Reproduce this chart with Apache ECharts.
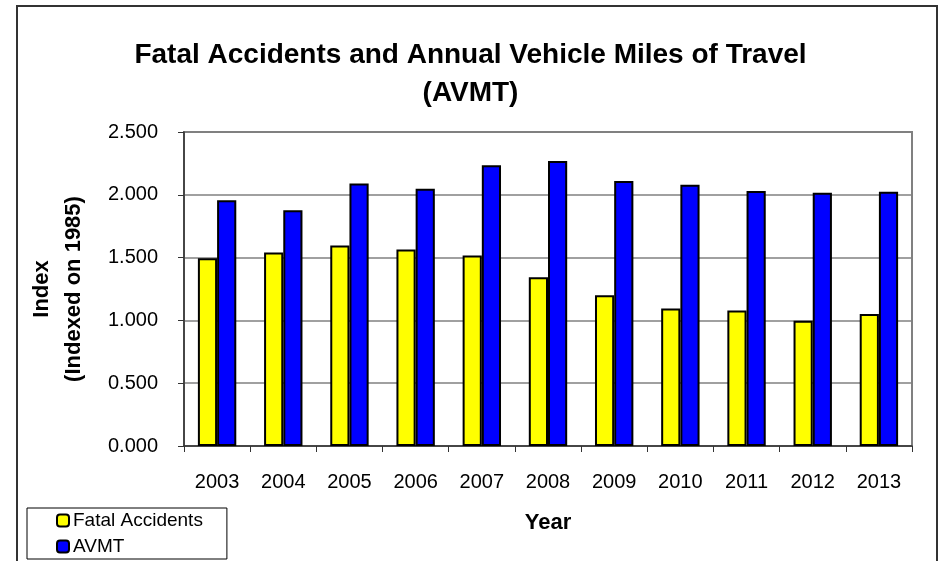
<!DOCTYPE html>
<html>
<head>
<meta charset="utf-8">
<script src="https://cdn.jsdelivr.net/npm/echarts@6/dist/echarts.min.js"></script>
<style>html,body{margin:0;padding:0;background:#fff}#c{width:941px;height:561px}</style>
</head>
<body>
<div id="c"></div>
<script>
var years = ['2003','2004','2005','2006','2007','2008','2009','2010','2011','2012','2013'];
var fatalAccidents = [1.495, 1.540, 1.596, 1.564, 1.516, 1.344, 1.201, 1.095, 1.079, 0.997, 1.050];
var avmt = [1.956, 1.877, 2.089, 2.049, 2.235, 2.269, 2.110, 2.081, 2.031, 2.017, 2.025];
var yTicks = [0, 0.5, 1.0, 1.5, 2.0, 2.5];

var FONT = 'Liberation Sans';
var chart = echarts.init(document.getElementById('c'), null, {renderer: 'canvas'});
chart.setOption({
  animation: false,
  backgroundColor: '#fff',
  textStyle: {fontFamily: FONT},
  title: {
    text: 'Fatal Accidents and Annual Vehicle Miles of Travel\n(AVMT)',
    left: 'center',
    top: 31,
    textStyle: {fontFamily: FONT, fontWeight: 'bold', fontSize: 28, lineHeight: 38, color: '#000'}
  },
  graphic: [
    {type: 'polyline', silent: true, shape: {points: [[17, 570], [17, 6], [937, 6], [937, 570]]},
     style: {stroke: '#333', lineWidth: 2, fill: null}}
  ],
  legend: {
    orient: 'vertical',
    left: 27, top: 508,
    data: ['Fatal Accidents', 'AVMT'],
    itemWidth: 12, itemHeight: 12, itemGap: 7,
    borderColor: '#000', borderWidth: 1,
    padding: [3, 24, 3, 29],
    textStyle: {fontFamily: FONT, fontSize: 19, color: '#000', padding: [0, 0, 0, -1]}
  },
  grid: {left: 184, right: 29, top: 132, bottom: 115, show: true, borderColor: '#808080', borderWidth: 2},
  xAxis: {
    type: 'category',
    data: years,
    name: 'Year',
    nameLocation: 'middle',
    nameGap: 66,
    nameTextStyle: {fontFamily: FONT, fontWeight: 'bold', fontSize: 22, color: '#000'},
    axisLine: {lineStyle: {color: '#333', width: 1.5}},
    axisTick: {show: true, length: 6, lineStyle: {color: '#333'}},
    axisLabel: {fontFamily: FONT, fontSize: 20, color: '#000', margin: 26}
  },
  yAxis: {
    type: 'value',
    min: 0, max: 2.5, interval: 0.5,
    name: 'Index\n(Indexed on 1985)',
    nameLocation: 'middle',
    nameRotate: 90,
    nameGap: 94,
    nameTextStyle: {fontFamily: FONT, fontWeight: 'bold', fontSize: 22, lineHeight: 32, color: '#000'},
    axisLine: {show: true, lineStyle: {color: '#333', width: 1.5}},
    axisTick: {show: true, length: 6, lineStyle: {color: '#333'}},
    splitLine: {lineStyle: {color: '#808080', width: 1.5}},
    axisLabel: {fontFamily: FONT, fontSize: 20, color: '#000', margin: 26,
      formatter: function (v) { return v.toFixed(3); }}
  },
  series: [
    {name: 'Fatal Accidents', type: 'bar', data: fatalAccidents, barGap: '0%', barCategoryGap: '42%',
     itemStyle: {color: '#FFFF00', borderColor: '#000', borderWidth: 2}},
    {name: 'AVMT', type: 'bar', data: avmt, barGap: '0%', barCategoryGap: '42%',
     itemStyle: {color: '#0000FF', borderColor: '#000', borderWidth: 2}}
  ]
});
</script>
</body>
</html>
